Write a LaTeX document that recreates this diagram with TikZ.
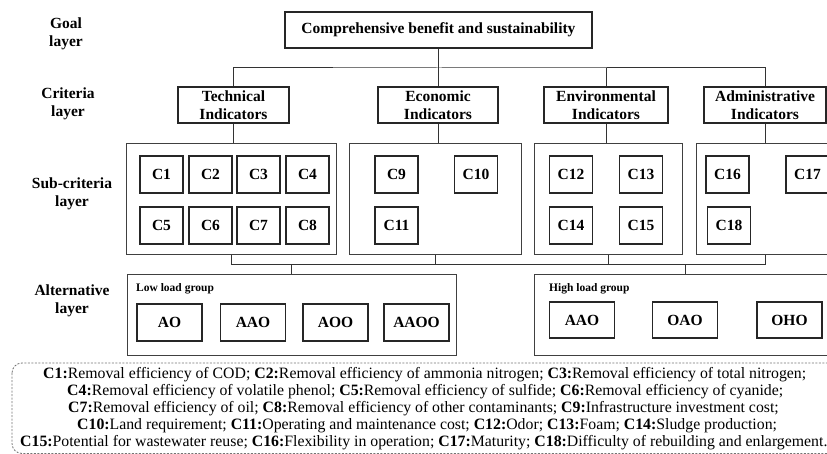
\documentclass[tikz,border=0pt]{standalone}
\usepackage{fontspec}
\setmainfont{Liberation Serif}
\begin{document}
\begin{tikzpicture}[x=1pt,y=-1pt,
  lbl/.style={font=\fontsize{15.5}{18}\selectfont\bfseries, align=center, inner sep=0pt},
  bx/.style={draw=black!85, line width=1.2pt, inner sep=0pt, font=\fontsize{15.5}{18}\selectfont\bfseries, align=center},
  cbox/.style={bx, minimum width=43pt, minimum height=37pt},
  altbox/.style={bx, minimum width=65pt, minimum height=37pt},
  grp/.style={draw=black!75, line width=1pt, inner sep=0pt},
  ln/.style={draw=black!80, line width=1pt},
  grplbl/.style={font=\fontsize{11.5}{13}\selectfont\bfseries, anchor=west, inner sep=0pt},
  note/.style={font=\fontsize{15.8}{17}\selectfont, anchor=west, inner sep=0pt}
]
\useasboundingbox (0,0) rectangle (827,454);
\clip (0,0) rectangle (827,454);

% layer labels
\node[lbl] (lgoal) at (66,34) {Goal\\layer};
\node[lbl] (lcrit) at (68,104) {Criteria\\layer};
\node[lbl] (lsub) at (72,194) {Sub-criteria\\layer};
\node[lbl] (lalt) at (72,301) {Alternative\\layer};

% goal
\node[bx, minimum width=307pt, minimum height=36pt] (goal) at (438.5,30) {Comprehensive benefit and sustainability};

% criteria
\node[bx, minimum width=111pt, minimum height=36pt] (tech) at (233.5,105) {Technical\\Indicators};
\node[bx, minimum width=120pt, minimum height=36pt] (econ) at (438,105) {Economic\\Indicators};
\node[bx, minimum width=124pt, minimum height=36pt] (env) at (606,105) {Environmental\\Indicators};
\node[bx, minimum width=122pt, minimum height=36pt] (adm) at (765,105) {Administrative\\Indicators};

\coordinate (topbus) at (438.5,68);
\draw[ln] (goal.south) -- (topbus);
\draw[ln] (tech.north) |- (topbus) -| (adm.north);
\draw[ln] (econ.north) -- (econ.north |- topbus);
\draw[ln] (env.north) -- (env.north |- topbus);

% sub-criteria groups
\node[grp, minimum width=210pt, minimum height=111pt] (tg) at (231,199.5) {};
\node[grp, minimum width=172pt, minimum height=111pt] (eg) at (435,199.5) {};
\node[grp, minimum width=148pt, minimum height=111pt] (vg) at (608,199.5) {};
\node[grp, minimum width=180pt, minimum height=111pt] (ag) at (786,199.5) {};

\draw[ln] (tech.south) -- (tech.south |- tg.north);
\draw[ln] (econ.south) -- (econ.south |- eg.north);
\draw[ln] (env.south) -- (env.south |- vg.north);
\draw[ln] (adm.south) -- (adm.south |- ag.north);

% C boxes
\node[cbox] (c1) at (161.5,174.5) {C1};
\node[cbox] (c2) at (210.5,174.5) {C2};
\node[cbox] (c3) at (258.5,174.5) {C3};
\node[cbox] (c4) at (307.5,174.5) {C4};
\node[cbox] (c5) at (161.5,225.5) {C5};
\node[cbox] (c6) at (210.5,225.5) {C6};
\node[cbox] (c7) at (258.5,225.5) {C7};
\node[cbox] (c8) at (307.5,225.5) {C8};
\node[cbox] (c9) at (396.5,174.5) {C9};
\node[cbox] (c10) at (476,174.5) {C10};
\node[cbox] (c11) at (396.5,225.5) {C11};
\node[cbox] (c12) at (571,174.5) {C12};
\node[cbox] (c13) at (641,174.5) {C13};
\node[cbox] (c14) at (571,225.5) {C14};
\node[cbox] (c15) at (641,225.5) {C15};
\node[cbox] (c16) at (727.5,174.5) {C16};
\node[cbox] (c17) at (807.5,174.5) {C17};
\node[cbox] (c18) at (729,225.5) {C18};

% bottom bus
\coordinate (busL) at (231,265);
\coordinate (busR) at (765,265);
\draw[ln] (tg.south) -- (busL) -- (busR) -- (busR |- ag.south);
\draw[ln] (eg.south) -- (eg.south |- busL);
\draw[ln] (vg.south) -- (vg.south |- busL);

% alternative groups
\node[grp, minimum width=329pt, minimum height=80pt] (low) at (291.5,315) {};
\node[grp, minimum width=302pt, minimum height=80pt] (high) at (685,315) {};
\draw[ln] (low.north) -- (low.north |- busL);
\draw[ln] (high.north) -- (high.north |- busL);

\node[grplbl] (lowlbl) at (136,289) {Low load group};
\node[grplbl] (highlbl) at (549,289) {High load group};

\node[altbox] (ao) at (169.5,322.5) {AO};
\node[altbox] (aao) at (253,322.5) {AAO};
\node[altbox] (aoo) at (335.5,322.5) {AOO};
\node[altbox] (aaoo) at (416.5,322.5) {AAOO};
\node[altbox, minimum height=36pt] (haao) at (582,320) {AAO};
\node[altbox, minimum height=36pt] (oao) at (685,320) {OAO};
\node[altbox, minimum height=36pt] (oho) at (789.5,320) {OHO};

% legend
\draw[draw=black!55, line width=0.8pt, dash pattern=on 2pt off 1.5pt, rounded corners=10pt] (12,363) rectangle (845,453.5);
\node[note] (n1) at (43,375) {\textbf{C1:}Removal efficiency of COD; \textbf{C2:}Removal efficiency of ammonia nitrogen; \textbf{C3:}Removal efficiency of total nitrogen;};
\node[note] (n2) at (67,392) {\textbf{C4:}Removal efficiency of volatile phenol; \textbf{C5:}Removal efficiency of sulfide; \textbf{C6:}Removal efficiency of cyanide;};
\node[note] (n3) at (68,409) {\textbf{C7:}Removal efficiency of oil; \textbf{C8:}Removal efficiency of other contaminants; \textbf{C9:}Infrastructure investment cost;};
\node[note] (n4) at (77,426) {\textbf{C10:}Land requirement; \textbf{C11:}Operating and maintenance cost; \textbf{C12:}Odor; \textbf{C13:}Foam; \textbf{C14:}Sludge production;};
\node[note] (n5) at (20,443) {\textbf{C15:}Potential for wastewater reuse; \textbf{C16:}Flexibility in operation; \textbf{C17:}Maturity; \textbf{C18:}Difficulty of rebuilding and enlargement.};
\end{tikzpicture}
\end{document}
